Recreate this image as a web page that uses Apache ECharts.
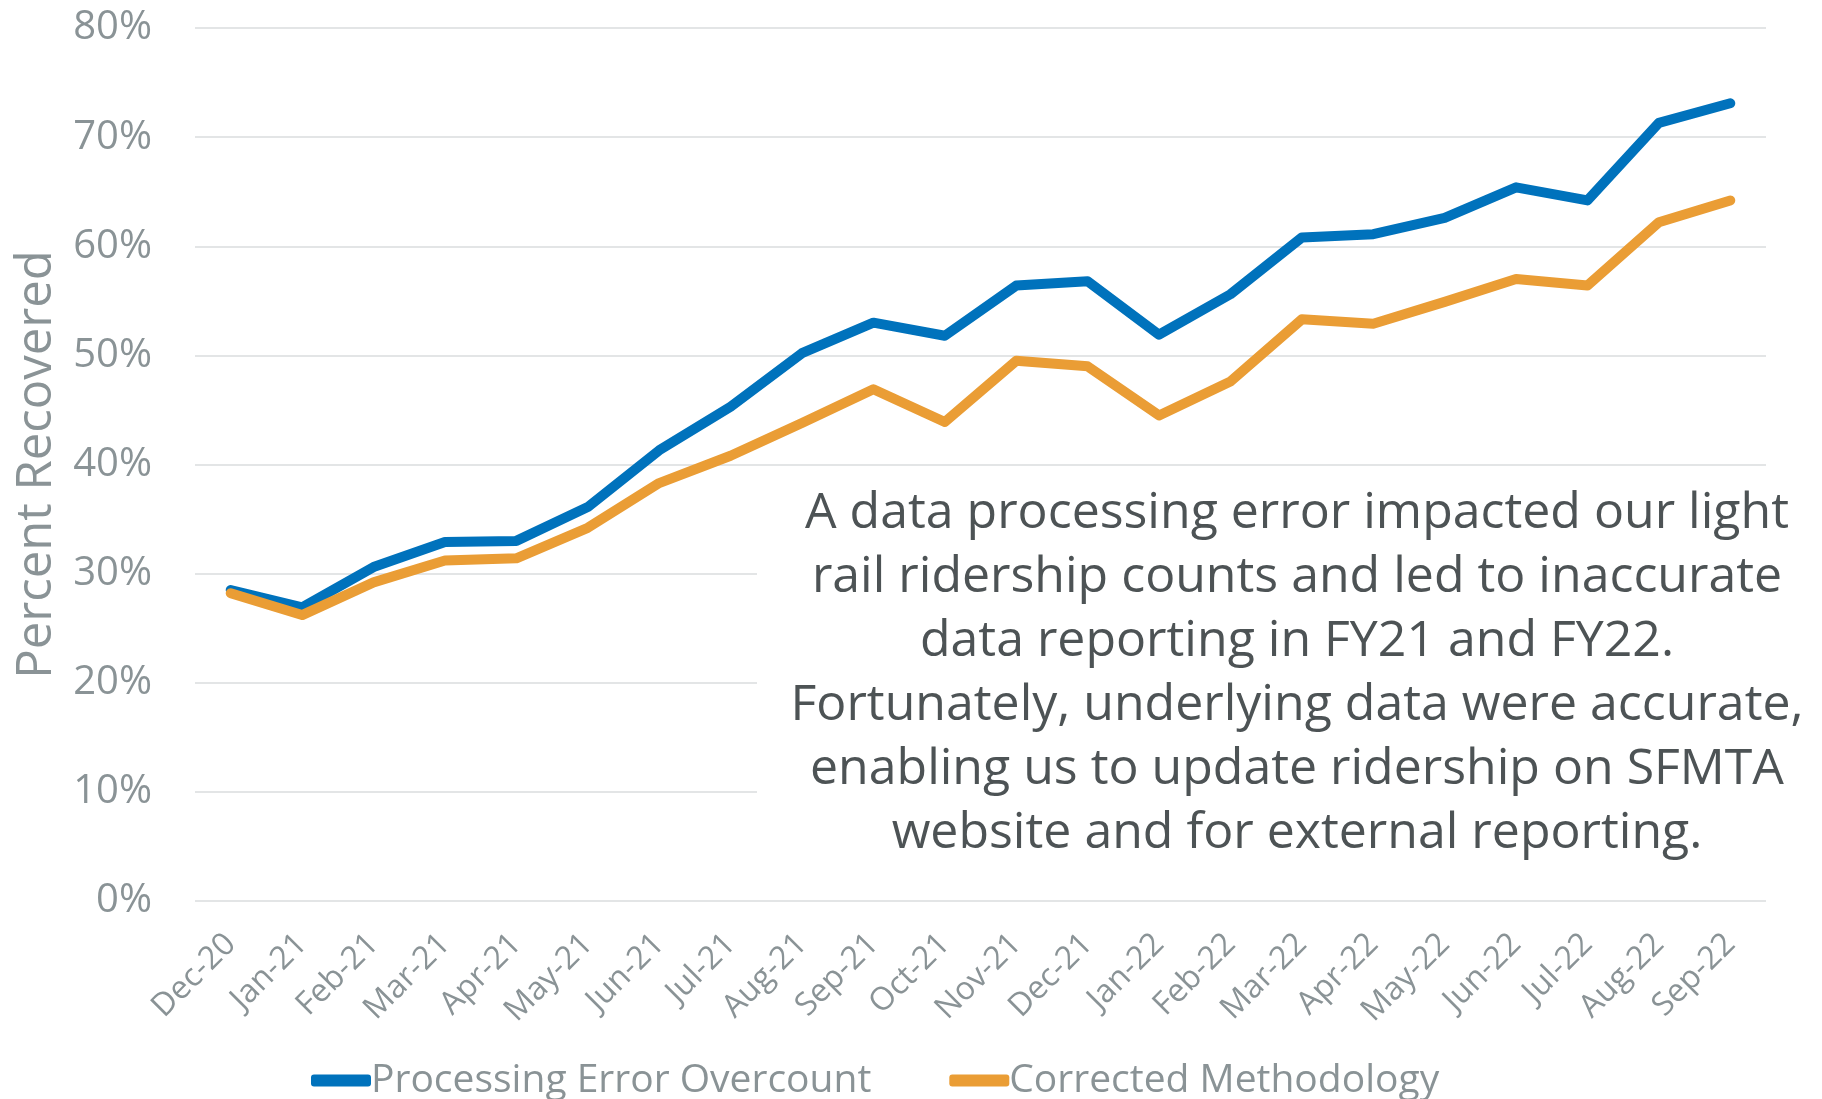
<!DOCTYPE html>
<html>
<head>
<meta charset="utf-8">
<script src="https://cdn.jsdelivr.net/npm/echarts@6/dist/echarts.min.js"></script>
<style>
  html, body { margin: 0; padding: 0; background: #fff; }
  #chart { width: 1822px; height: 1099px; }
</style>
</head>
<body>
<div id="chart"></div>
<script>
var months = ['Dec-20', 'Jan-21', 'Feb-21', 'Mar-21', 'Apr-21', 'May-21', 'Jun-21', 'Jul-21',
  'Aug-21', 'Sep-21', 'Oct-21', 'Nov-21', 'Dec-21', 'Jan-22', 'Feb-22', 'Mar-22',
  'Apr-22', 'May-22', 'Jun-22', 'Jul-22', 'Aug-22', 'Sep-22'];

// percent recovered
var overcount = [28.5, 26.9, 30.6, 32.9, 33.0, 36.1, 41.3, 45.3, 50.2, 53.0, 51.8, 56.4,
  56.8, 51.9, 55.6, 60.8, 61.1, 62.6, 65.4, 64.2, 71.3, 73.1];
var corrected = [28.2, 26.2, 29.2, 31.2, 31.4, 34.2, 38.3, 40.8, 43.8, 46.9, 43.9, 49.5,
  49.0, 44.5, 47.6, 53.3, 52.9, 54.9, 57.0, 56.4, 62.2, 64.2];

var seriesNames = ['Processing Error Overcount', 'Corrected Methodology'];

var note = [
  'A data processing error impacted our light',
  'rail ridership counts and led to inaccurate',
  'data reporting in FY21 and FY22.',
  'Fortunately, underlying data were accurate,',
  'enabling us to update ridership on SFMTA',
  'website and for external reporting.'
];

var grey = '#8a9396';
var chart = echarts.init(document.getElementById('chart'));
var option = {
  animation: false,
  color: ['#0072bc', '#ea9d35'],
  textStyle: { fontFamily: 'Open Sans' },
  grid: { left: 195, right: 56, top: 28, bottom: 198, containLabel: false },
  legend: {
    data: seriesNames,
    left: 306,
    top: 1056,
    icon: 'roundRect',
    itemWidth: 60,
    itemHeight: 12,
    itemGap: 78,
    textStyle: { fontSize: 39, color: grey, padding: [0, 0, 0, -5] }
  },
  xAxis: {
    type: 'category',
    data: months,
    axisLine: { show: false },
    axisTick: { show: false },
    axisLabel: { interval: 0, rotate: 45, fontSize: 32, color: grey, margin: 38 }
  },
  yAxis: {
    type: 'value',
    min: 0,
    max: 80,
    interval: 10,
    name: 'Percent Recovered',
    nameLocation: 'middle',
    nameRotate: 90,
    nameGap: 133,
    nameTextStyle: { fontSize: 49, color: grey },
    axisLabel: { formatter: '{value}%', fontSize: 40, color: grey, margin: 43 },
    splitLine: { lineStyle: { color: '#e3e5e6', width: 2 } }
  },
  series: [
    {
      name: seriesNames[0],
      type: 'line',
      data: overcount,
      symbol: 'none',
      lineStyle: { width: 10, cap: 'round', join: 'round' }
    },
    {
      name: seriesNames[1],
      type: 'line',
      data: corrected,
      symbol: 'none',
      lineStyle: { width: 10, cap: 'round', join: 'round' }
    }
  ],
  graphic: [
    {
      type: 'rect',
      left: 757, top: 470, z: 10,
      shape: { width: 1065, height: 415 },
      style: { fill: '#fff' }
    },
    {
      type: 'text',
      x: 1297, y: 482, z: 11,
      style: {
        text: note.join('\n'),
        align: 'center',
        verticalAlign: 'top',
        fontSize: 50,
        lineHeight: 64,
        fontFamily: 'Open Sans',
        fill: '#4d5355'
      }
    }
  ]
};
chart.setOption(option);
</script>
</body>
</html>
